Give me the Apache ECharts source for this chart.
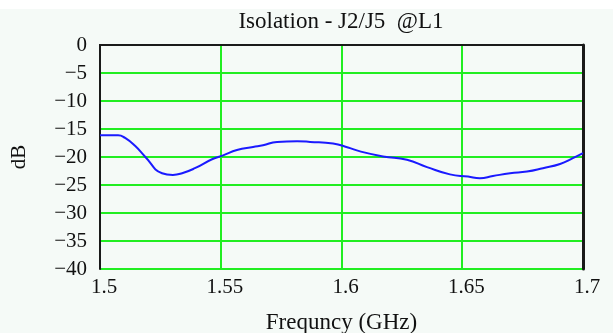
<!DOCTYPE html>
<html>
<head>
<meta charset="utf-8">
<script src="https://cdn.jsdelivr.net/npm/echarts@6/dist/echarts.min.js"></script>
<style>
  html, body { margin: 0; padding: 0; background: #ffffff; }
  #chart { position: absolute; left: 0; top: 0; width: 613px; height: 333px; }
  #band { position: absolute; left: 0; top: 9px; width: 613px; height: 324px; background: #f5faf7; }
</style>
</head>
<body>
<div id="band"></div>
<div id="chart"></div>
<script>
// Frequency sweep (GHz) and isolation J2/J5 (dB)
const freqGHz = [1.5, 1.5075, 1.5104, 1.5145, 1.5186, 1.5257, 1.5302, 1.534, 1.5393, 1.5464,
  1.551, 1.5567, 1.5634, 1.5675, 1.5733, 1.5816, 1.587, 1.5965, 1.6027, 1.6077,
  1.6172, 1.6271, 1.6354, 1.6449, 1.6524, 1.6573, 1.6627, 1.6698, 1.6768, 1.6834,
  1.6905, 1.6958, 1.7];
const isolationDb = [-16.1, -16.1, -16.6, -18.0, -19.9, -22.9, -23.2, -22.9, -22.0, -20.4,
  -19.7, -18.75, -18.2, -17.9, -17.3, -17.2, -17.3, -17.6, -18.3, -19.0,
  -19.9, -20.5, -21.8, -23.1, -23.5, -23.8, -23.4, -22.9, -22.6, -22.0,
  -21.25, -20.2, -19.3];
const xTickLabels = ['1.5', '1.55', '1.6', '1.65', '1.7'];
const yTickLabels = ['-40', '-35', '-30', '-25', '-20', '-15', '-10', '-5', '0'];

const serif = '"Liberation Serif", "DejaVu Serif", serif';
const gridGreen = '#22ee22';
const frame = '#1a1a1a';

const chart = echarts.init(document.getElementById('chart'));
chart.setOption({
  backgroundColor: 'transparent',
  animation: false,
  title: {
    text: 'Isolation - J2/J5  @L1',
    left: 341, textAlign: 'center',
    top: 10,
    textStyle: { fontFamily: serif, fontSize: 23, fontWeight: 'normal', color: '#111' },
    padding: 0,
    itemGap: 0
  },
  grid: { left: 100, right: 30, top: 45, bottom: 64, outerBoundsMode: 'none', containLabel: false },
  xAxis: [{
    type: 'value', position: 'bottom', min: 1.5, max: 1.7, interval: 0.05,
    name: 'Frequncy (GHz)', nameLocation: 'middle', nameGap: 42,
    nameTextStyle: { fontFamily: serif, fontSize: 23, color: '#111' },
    axisLine: { show: true, lineStyle: { color: frame, width: 2 } },
    axisTick: { show: false },
    axisLabel: {
      fontFamily: serif, fontSize: 21, color: '#111', margin: 8,
      padding: [0, 0, 0, 8],
      formatter: v => xTickLabels[Math.round((v - 1.5) / 0.05)]
    },
    splitLine: { show: true, lineStyle: { color: gridGreen, width: 2 } }
  }, {
    type: 'value', position: 'top', min: 1.5, max: 1.7, interval: 0.05,
    axisLine: { show: true, lineStyle: { color: frame, width: 2 } },
    axisTick: { show: false }, axisLabel: { show: false }, splitLine: { show: false }
  }],
  yAxis: [{
    type: 'value', position: 'left', min: -40, max: 0, interval: 5,
    name: 'dB', nameLocation: 'middle', nameGap: 70, nameRotate: 90,
    nameTextStyle: { fontFamily: serif, fontSize: 21, color: '#111' },
    axisLine: { show: true, lineStyle: { color: frame, width: 2 } },
    axisTick: { show: false },
    axisLabel: {
      fontFamily: serif, fontSize: 21, color: '#111', margin: 13,
      padding: [4, 0, 0, 0],
      formatter: v => yTickLabels[Math.round((v + 40) / 5)].replace('-', '\u2212')
    },
    splitLine: { show: true, lineStyle: { color: gridGreen, width: 2 } }
  }, {
    type: 'value', position: 'right', min: -40, max: 0, interval: 5,
    axisLine: { show: true, lineStyle: { color: frame, width: 3 } },
    axisTick: { show: false }, axisLabel: { show: false }, splitLine: { show: false }
  }],
  series: [{
    type: 'line',
    xAxisIndex: 0, yAxisIndex: 0,
    data: freqGHz.map((f, i) => [f, isolationDb[i]]),
    smooth: 0.5,
    showSymbol: false,
    lineStyle: { color: '#1a1aff', width: 2 },
    z: 5
  }]
});
</script>
</body>
</html>
